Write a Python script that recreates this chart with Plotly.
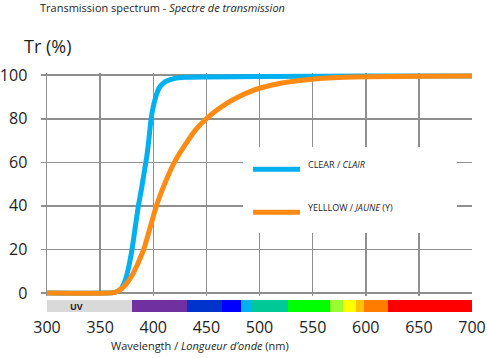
import plotly.graph_objects as go

# ---------------- data ----------------
wl_clear = [300, 355, 362, 366, 370, 373, 376, 380, 383, 386, 389, 391, 394, 396, 398, 400, 403, 406, 410, 414, 420, 430, 450, 500, 600, 700]
tr_clear = [0, 0, 0.2, 0.7, 2.2, 5, 10, 20, 30, 40, 48, 54, 63, 71, 80, 85.5, 91, 94.5, 96.5, 97.6, 98.5, 99, 99.2, 99.4, 99.6, 99.6]

wl_yellow = [300, 358, 364, 368, 374, 380, 385, 391, 397, 403, 409, 415, 421, 430, 440, 450, 460, 470, 480, 490, 500, 520, 540, 560, 580, 600, 650, 700]
tr_yellow = [0, 0, 0.3, 1.2, 3.8, 8, 13, 20, 30, 40, 48, 55, 61, 68, 75, 80, 84, 87.3, 90, 92.2, 94, 96.3, 97.7, 98.6, 99.1, 99.3, 99.5, 99.6]

series_names = ["CLEAR / <i>CLAIR</i>", "YELLLOW / <i>JAUNE</i> (Y)"]
series_colors = ["#00b0f0", "#ff8a14"]

band_start = [300, 380, 432, 465, 483, 493, 527, 566, 579, 591, 598, 621]
band_end = [380, 432, 465, 483, 493, 527, 566, 579, 591, 598, 621, 700]
band_colors = ["#d9d9d9", "#7030a0", "#0033cc", "#0000ff", "#00b0f0", "#00c896",
               "#00ff00", "#99ff33", "#ffff00", "#ffc000", "#ff7c00", "#ff0000"]

x_ticks = [300, 350, 400, 450, 500, 550, 600, 650, 700]
y_ticks = [0, 20, 40, 60, 80, 100]

FONT = "Open Sans"
GRID = "#8f8f8f"

fig = go.Figure()

fig.add_trace(go.Scatter(x=wl_clear, y=tr_clear, mode="lines",
                         line=dict(color=series_colors[0], width=5, shape="spline", smoothing=0.7),
                         showlegend=False, hoverinfo="skip"))
fig.add_trace(go.Scatter(x=wl_yellow, y=tr_yellow, mode="lines",
                         line=dict(color=series_colors[1], width=5, shape="spline", smoothing=0.7),
                         showlegend=False, hoverinfo="skip"))

# spectrum band
fig.add_trace(go.Bar(orientation="h", y=[0] * len(band_start),
                     x=[e - s for s, e in zip(band_start, band_end)], base=band_start,
                     width=1, marker=dict(color=band_colors, line=dict(width=0)),
                     xaxis="x", yaxis="y2", showlegend=False, hoverinfo="skip"))

H_TOP = 73
H_BOT = 46
paper_h = 358 - H_TOP - H_BOT
main_bottom = (312 - 296.3) / paper_h
band_top = 12 / paper_h

fig.update_layout(
    width=487, height=358,
    margin=dict(l=47, r=15, t=H_TOP, b=H_BOT, autoexpand=False),
    paper_bgcolor="white", plot_bgcolor="white",
    font=dict(family=FONT, color="#1e1e1e"),
    xaxis=dict(range=[300, 700], tickvals=x_ticks, showgrid=True, gridcolor=GRID, gridwidth=1.5,
               anchor="y2", ticks="", tickfont=dict(size=16, color="#1e1e1e"),
               zeroline=False, showline=False, ticklabelstandoff=4, automargin=False),
    yaxis=dict(range=[-1.5, 101], tickvals=y_ticks, domain=[main_bottom, 1],
               showgrid=True, gridcolor=GRID, gridwidth=1.5, zeroline=False,
               showline=True, linecolor=GRID, linewidth=1.5,
               ticks="outside", ticklen=5, tickcolor=GRID, tickwidth=1.5,
               tickfont=dict(size=16, color="#1e1e1e"), ticklabelstandoff=10, automargin=False),
    yaxis2=dict(range=[-0.5, 0.5], domain=[0, band_top], showgrid=False, zeroline=False,
                showticklabels=False, ticks="", automargin=False),
    bargap=0,
)

# legend box (custom)
shapes = [dict(type="rect", xref="paper", yref="paper",
               x0=(243 - 47) / 425, x1=(457 - 47) / 425,
               y0=(312 - 233) / paper_h, y1=(312 - 147) / paper_h,
               fillcolor="white", line=dict(width=0), layer="above")]
leg_y = [169.3, 212.3]
for i in range(2):
    yy = (312 - leg_y[i]) / paper_h
    shapes.append(dict(type="line", xref="paper", yref="paper",
                       x0=(253 - 47) / 425, x1=(300 - 47) / 425, y0=yy, y1=yy,
                       line=dict(color=series_colors[i], width=5), layer="above"))
fig.update_layout(shapes=shapes)

annotations = []
for i in range(2):
    annotations.append(dict(xref="paper", yref="paper", x=(306 - 47) / 425,
                            y=(312 - (leg_y[i] - 5)) / paper_h,
                            text=series_names[i], showarrow=False, xanchor="left", yanchor="middle",
                            font=dict(size=9, color="#262626")))
annotations += [
    dict(xref="paper", yref="paper", x=(38 - 47) / 425, y=(312 - 7) / paper_h,
         text="Transmission spectrum - <i>Spectre de transmission</i>", showarrow=False,
         xanchor="left", yanchor="middle", font=dict(size=11, color="#262626")),
    dict(xref="paper", yref="paper", x=(22 - 47) / 425, y=(312 - 46) / paper_h,
         text="Tr (%)", showarrow=False, xanchor="left", yanchor="middle",
         font=dict(size=18, color="#1e1e1e")),
    dict(xref="paper", yref="paper", x=(200 - 47) / 425, y=(312 - 345) / paper_h,
         text="Wavelength / <i>Longueur d’onde</i> (nm)", showarrow=False,
         xanchor="center", yanchor="middle", font=dict(size=11, color="#262626")),
    dict(xref="x", yref="y2", x=328, y=0, text="<b>UV</b>", showarrow=False,
         xanchor="center", yanchor="middle", font=dict(size=9, color="#262626")),
]
fig.update_layout(annotations=annotations)

fig.write_html("out.html", config={"displayModeBar": False, "staticPlot": True},
               post_script="document.body.style.margin='0';")
